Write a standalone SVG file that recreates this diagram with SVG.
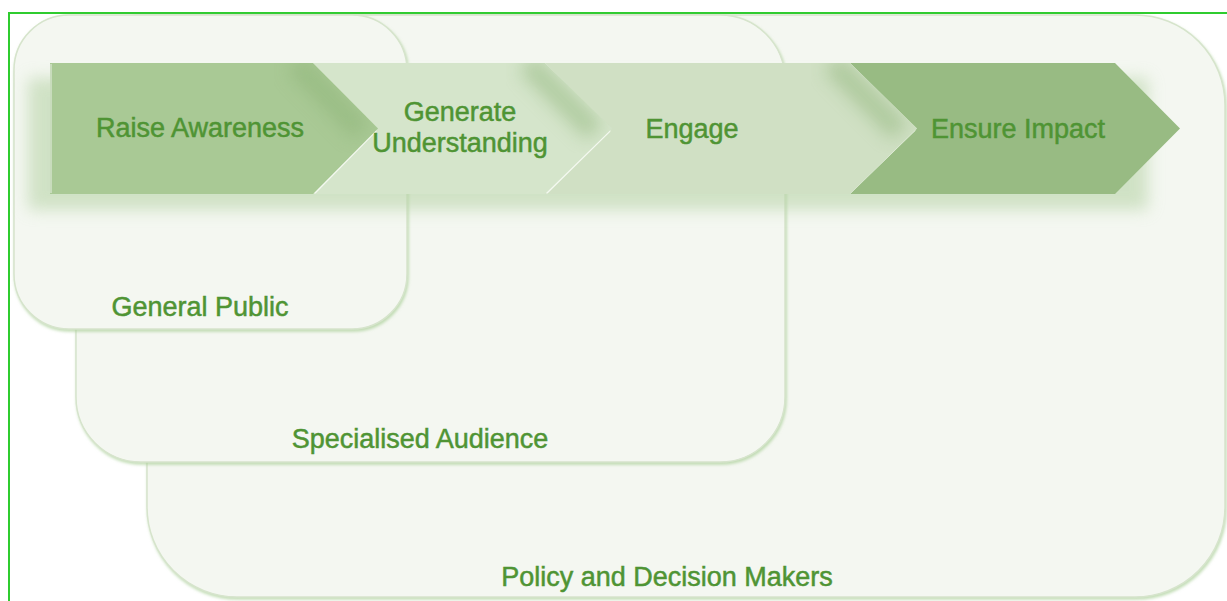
<svg xmlns="http://www.w3.org/2000/svg" width="1227" height="601" viewBox="0 0 1227 601">
<style>
.box{fill:#f4f7f1;stroke:#d6e4cc;stroke-width:1.5;filter:url(#bshadow)}
.lbl{font-family:"Liberation Sans",Arial,sans-serif;font-size:27px;fill:#4f9434;stroke:#4f9434;stroke-width:0.5;text-anchor:middle}
.hl{stroke:#f4f9f0;stroke-width:3;fill:none;stroke-linecap:round}
.inner{fill:none;stroke:#8cb276;stroke-width:22;opacity:.5;filter:url(#blur6)}
</style>
<defs>
<filter id="bshadow" x="-5%" y="-5%" width="110%" height="115%">
<feDropShadow dx="1" dy="2" stdDeviation="1.5" flood-color="#a9cf96" flood-opacity=".7"/>
</filter>
<filter id="blur6" x="-30%" y="-30%" width="160%" height="160%"><feGaussianBlur stdDeviation="9"/></filter>
<filter id="blur8" x="-20%" y="-50%" width="140%" height="200%"><feGaussianBlur stdDeviation="8"/></filter>
<clipPath id="cRA"><polygon points="50,63 313,63 378,128.5 313,194 50,194"/></clipPath>
<clipPath id="cGU"><polygon points="313,63 545,63 612,128.5 545,194 313,194 378,128.5"/></clipPath>
<clipPath id="cEN"><polygon points="545,63 850,63 917,128.5 850,194 545,194 612,128.5"/></clipPath>
</defs>
<rect width="1227" height="601" fill="#ffffff"/>
<g id="frame"><line x1="8" y1="13" x2="1227" y2="13" stroke="#2fcc2f" stroke-width="2"/><line x1="9" y1="13" x2="9" y2="601" stroke="#2fcc2f" stroke-width="2"/></g>
<g id="policy"><rect class="box" x="147" y="15" width="1078" height="582" rx="90"/><text class="lbl" x="667" y="586">Policy and Decision Makers</text></g>
<g id="specialised"><rect class="box" x="76" y="15" width="709" height="447" rx="65"/><text class="lbl" x="420" y="448">Specialised Audience</text></g>
<g id="general"><rect class="box" x="14" y="15" width="393" height="314" rx="55"/><text class="lbl" x="200" y="316">General Public</text></g>
<g id="band-shadow"><rect x="28" y="78" width="1120" height="132" fill="#b8d4a8" opacity=".6" filter="url(#blur8)"/></g>
<g id="ensure-impact"><polygon points="850,63 1115,63 1180,128.5 1115,194 850,194 917,128.5" fill="#98bb83"/><line class="hl" x1="850" y1="192" x2="914" y2="130"/><text class="lbl" x="1018" y="138">Ensure Impact</text></g>
<g id="engage"><polygon points="545,63 850,63 917,128.5 850,194 545,194 612,128.5" fill="#d0e0c4"/><g clip-path="url(#cEN)"><polyline class="inner" points="832,63 900,132"/></g><line class="hl" x1="547" y1="192" x2="609" y2="131"/><text class="lbl" x="692" y="138">Engage</text></g>
<g id="generate-understanding"><polygon points="313,63 545,63 612,128.5 545,194 313,194 378,128.5" fill="#d5e5cb"/><g clip-path="url(#cGU)"><polyline class="inner" points="527,63 595,132"/></g><line class="hl" x1="315" y1="192" x2="375" y2="131"/><text class="lbl" x="460" y="121">Generate</text><text class="lbl" x="460" y="152">Understanding</text></g>
<g id="raise-awareness"><polygon points="50,63 313,63 378,128.5 313,194 50,194" fill="#a9c995"/><g clip-path="url(#cRA)"><polyline class="inner" points="295,63 362,132"/></g><line x1="51" y1="64" x2="51" y2="193" stroke="#c8dcbc" stroke-width="2"/><text class="lbl" x="200" y="137">Raise Awareness</text></g>
<g id="connectors"/>
</svg>
